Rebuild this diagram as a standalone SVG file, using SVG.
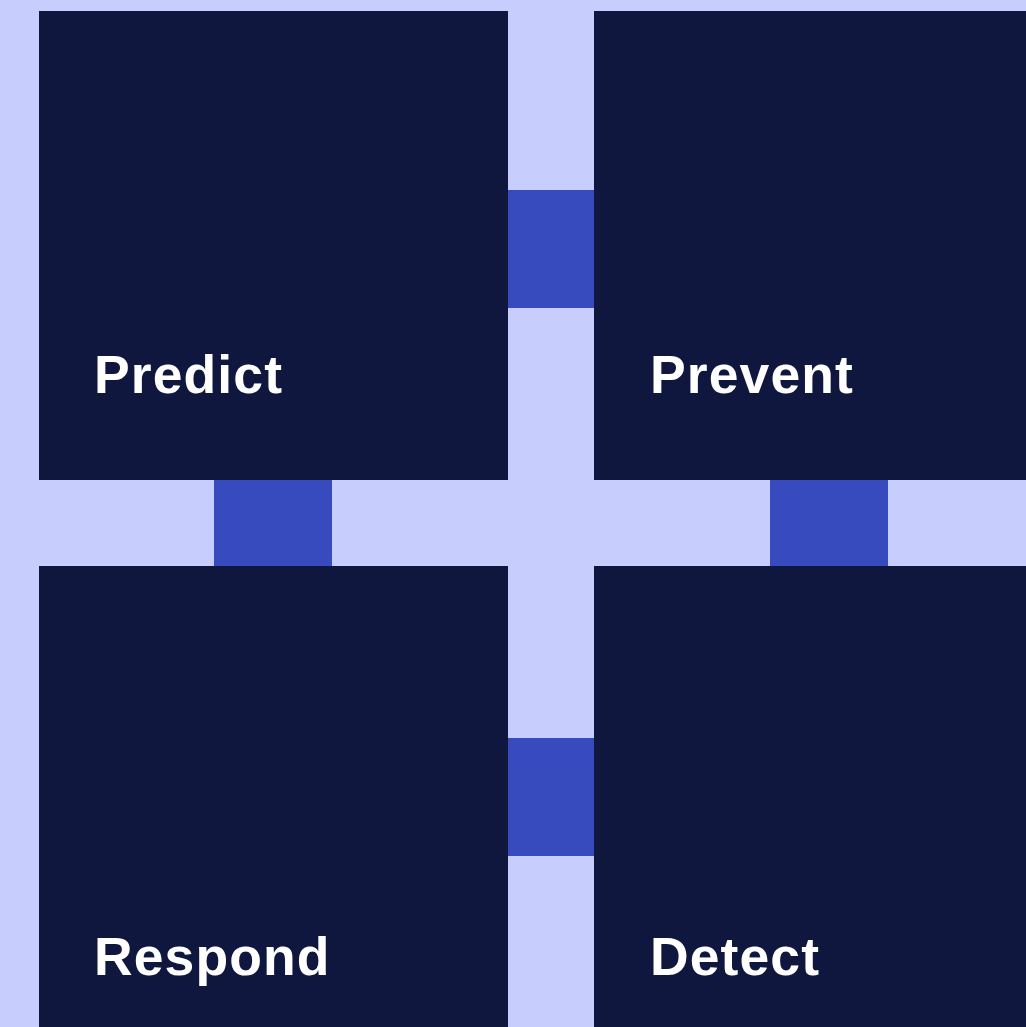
<svg xmlns="http://www.w3.org/2000/svg" width="1026" height="1027" viewBox="0 0 1026 1027">
<style>
.node{fill:#10173f}
.link{fill:#374bbe}
.label{font-family:"Liberation Sans",Arial,sans-serif;font-weight:bold;font-size:53.5px;fill:#ffffff;letter-spacing:1.1px}
</style>
<rect x="0" y="0" width="1026" height="1027" fill="#c7cefd"/>
<g id="connectors">
<rect class="link" x="508" y="190" width="86" height="118"/>
<rect class="link" x="214" y="480" width="118" height="86"/>
<rect class="link" x="770" y="480" width="118" height="86"/>
<rect class="link" x="508" y="738" width="86" height="118"/>
</g>
<g id="predict">
<rect class="node" x="39" y="11" width="469" height="469"/>
<text class="label" x="94" y="393">Predict</text>
</g>
<g id="prevent">
<rect class="node" x="594" y="11" width="432" height="469"/>
<text class="label" x="650" y="393">Prevent</text>
</g>
<g id="respond">
<rect class="node" x="39" y="566" width="469" height="461"/>
<text class="label" x="94" y="975">Respond</text>
</g>
<g id="detect">
<rect class="node" x="594" y="566" width="432" height="461"/>
<text class="label" x="650" y="975">Detect</text>
</g>
</svg>
